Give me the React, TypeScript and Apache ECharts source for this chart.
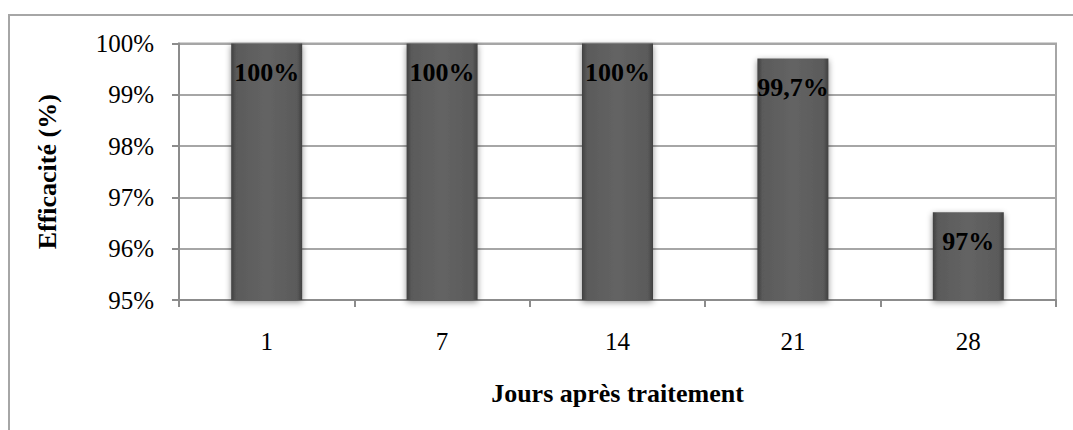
import React, { useEffect, useRef } from "react";
import * as echarts from "echarts";

const categories = ["1", "7", "14", "21", "28"];
const efficacy = [100, 100, 100, 99.71, 96.71];
const barLabels = ["100%", "100%", "100%", "99,7%", "97%"];
const yTicks = { min: 95, max: 100, interval: 1 };

export default function App() {
  const ref = useRef<HTMLDivElement>(null);
  useEffect(() => {
    if (!ref.current) return;
    const chart = echarts.init(ref.current, undefined, { renderer: "svg" });
    const font = "'Liberation Serif', 'Times New Roman', serif";
    chart.setOption({
      animation: false,
      backgroundColor: "#ffffff",
      graphic: [
        {
          type: "rect",
          shape: { x: 9, y: 15, width: 1200, height: 600 },
          style: { fill: "none", stroke: "#a6a6a6", lineWidth: 2 },
          silent: true,
        },
      ],
      grid: {
        left: 179,
        right: 17,
        top: 43.5,
        bottom: 130,
        show: true,
        borderColor: "#a6a6a6",
        borderWidth: 2,
        backgroundColor: "transparent",
      },
      xAxis: {
        type: "category",
        data: categories,
        boundaryGap: true,
        name: "Jours après traitement",
        nameLocation: "middle",
        nameGap: 80,
        nameTextStyle: { fontFamily: font, fontWeight: "bold", fontSize: 26, color: "#000" },
        axisLine: { show: true, lineStyle: { color: "#8c8c8c", width: 2 } },
        axisTick: { show: true, length: 7, alignWithLabel: false, lineStyle: { color: "#8c8c8c", width: 2 } },
        axisLabel: { fontFamily: font, fontSize: 25, color: "#000", margin: 29 },
        splitLine: { show: false },
      },
      yAxis: {
        type: "value",
        min: yTicks.min,
        max: yTicks.max,
        interval: yTicks.interval,
        name: "Efficacité (%)",
        nameLocation: "middle",
        nameGap: 119,
        nameTextStyle: { fontFamily: font, fontWeight: "bold", fontSize: 26, color: "#000" },
        axisLine: { show: true, lineStyle: { color: "#8c8c8c", width: 2 } },
        axisTick: { show: true, length: 7, lineStyle: { color: "#8c8c8c", width: 2 } },
        axisLabel: { fontFamily: font, fontSize: 25, color: "#000", margin: 25, formatter: "{value}%" },
        splitLine: { show: true, lineStyle: { color: "#a6a6a6", width: 2 } },
      },
      series: [
        {
          type: "bar",
          data: efficacy,
          barWidth: 71,
          itemStyle: {
            color: new echarts.graphic.LinearGradient(0, 0, 1, 0, [
              { offset: 0, color: "#404040" },
              { offset: 0.07, color: "#5a5a5a" },
              { offset: 0.5, color: "#646464" },
              { offset: 0.93, color: "#5a5a5a" },
              { offset: 1, color: "#404040" },
            ]),
            shadowBlur: 6,
            shadowColor: "rgba(0,0,0,0.45)",
            shadowOffsetY: 2,
          },
          label: {
            show: true,
            position: "insideTop",
            distance: 16,
            formatter: (p: any) => barLabels[p.dataIndex],
            fontFamily: font,
            fontWeight: "bold",
            fontSize: 26,
            color: "#000",
          },
        },
      ],
    });
    return () => chart.dispose();
  }, []);
  return (
    <div
      ref={ref}
      style={{ position: "absolute", left: 0, top: 0, width: 1073, height: 430 }}
    />
  );
}
